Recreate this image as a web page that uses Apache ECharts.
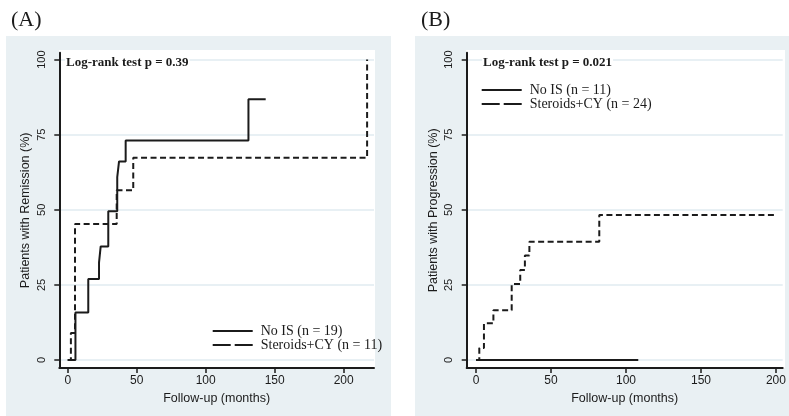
<!DOCTYPE html>
<html>
<head>
<meta charset="utf-8">
<script src="https://cdn.jsdelivr.net/npm/echarts@6/dist/echarts.min.js"></script>
<style>html,body{margin:0;padding:0;background:#fff}#c{width:789px;height:416px}</style>
</head>
<body>
<div id="c"></div>
<script>
// ---- Data ----
const xTicks = [0, 50, 100, 150, 200];
const yTicks = [0, 25, 50, 75, 100];

// Panel A: remission
const aNoIS_t = [0, 5.6, 14.9, 22.7, 23.9, 29.4, 35.9, 37.2, 42.0, 131.0, 143.5];
const aNoIS_v = [0, 15.8, 27.0, 32.5, 37.8, 49.5, 60.9, 66.1, 73.1, 86.8, 86.8];
const aSCY_t = [0, 2.3, 5.3, 35.5, 47.5, 217.0];
const aSCY_v = [0, 9.0, 45.3, 56.5, 67.3, 100];

// Panel B: progression
const bNoIS_t = [0, 108.2];
const bNoIS_v = [0, 0];
const bSCY_t = [0, 2.2, 5.3, 11.6, 23.8, 29.5, 32.6, 35.6, 82.2, 199.3];
const bSCY_v = [0, 4.0, 12.2, 16.6, 25.3, 30.0, 34.8, 39.4, 48.3, 48.3];

const nameA1 = 'No IS (n = 19)', nameA2 = 'Steroids+CY (n = 11)';
const nameB1 = 'No IS (n = 11)', nameB2 = 'Steroids+CY (n = 24)';
const panelLabels = ['(A)', '(B)'];
const pTexts = ['Log-rank test p = 0.39', 'Log-rank test p = 0.021'];
const yNames = ['Patients with Remission (%)', 'Patients with Progression (%)'];
const xName = 'Follow-up (months)';

// ---- Build ----
const zip = (t, v) => t.map((x, i) => [x, v[i]]);
const INK = '#1b1b1b';
const BG = '#e9f0f3';
const GRIDC = '#e0ebf1';
const SANS = '"Liberation Sans", Arial, sans-serif';
const SERIF = '"Liberation Serif", "Times New Roman", serif';
const DASH = [6, 3.5];
const ICON_SOLID = 'path://M0,0H40V2H0Z';
const ICON_DASH = 'path://M0,0H18V2H0Z M22,0H40V2H22Z';

function xAxisDef(idx, min, max) {
  return {
    gridIndex: idx, type: 'value', min: min, max: max,
    name: xName, nameLocation: 'middle', nameGap: 22,
    nameTextStyle: {fontFamily: SANS, fontSize: 12.5, color: INK},
    axisLine: {show: true, onZero: false, lineStyle: {color: INK, width: 2}},
    axisTick: {show: true, length: 5, customValues: xTicks, lineStyle: {color: INK, width: 1.5}},
    axisLabel: {customValues: xTicks, fontFamily: SANS, fontSize: 12, color: INK, margin: 7},
    splitLine: {show: false}
  };
}
function yAxisDef(idx, name) {
  return {
    gridIndex: idx, type: 'value', min: -2.66, max: 102.3,
    name: name, nameLocation: 'middle', nameGap: 27, nameRotate: 90,
    nameTextStyle: {fontFamily: SANS, fontSize: 12.5, color: INK},
    axisLine: {show: true, onZero: false, lineStyle: {color: INK, width: 2}},
    axisTick: {show: true, length: 5, customValues: yTicks, lineStyle: {color: INK, width: 1.5}},
    axisLabel: {customValues: yTicks, rotate: 90, fontFamily: SANS, fontSize: 11, color: INK, margin: 12},
    splitLine: {show: true, lineStyle: {color: GRIDC, width: 1.5}}
  };
}
function lineSeries(name, data, xi, dashed) {
  return {
    name: name, type: 'line', step: 'end', xAxisIndex: xi, yAxisIndex: xi,
    data: data, symbol: 'none', showSymbol: false, animation: false,
    lineStyle: {color: INK, width: 2, type: dashed ? DASH : 'solid'},
    itemStyle: {color: INK}
  };
}
function legendDef(left, top, n1, n2) {
  return {
    show: true, left: left, top: top, orient: 'vertical', itemWidth: 40, itemHeight: 2, itemGap: 0,
    selectedMode: false, padding: 0, symbolKeepAspect: false,
    itemStyle: {color: INK, borderWidth: 0},
    textStyle: {fontFamily: SERIF, fontSize: 14, color: INK, padding: [0, 0, 0, 3]},
    data: [
      {name: n1, icon: ICON_SOLID},
      {name: n2, icon: ICON_DASH}
    ]
  };
}

const chart = echarts.init(document.getElementById('c'), null, {renderer: 'canvas'});
const option = {
  backgroundColor: '#ffffff',
  animation: false,
  graphic: [
    {type: 'rect', z: -10, shape: {x: 6, y: 36, width: 385, height: 380}, style: {fill: BG}},
    {type: 'rect', z: -10, shape: {x: 415, y: 36, width: 374, height: 380}, style: {fill: BG}},
    {type: 'rect', z: -9, shape: {x: 59, y: 50, width: 316, height: 318}, style: {fill: '#ffffff'}},
    {type: 'rect', z: -9, shape: {x: 466, y: 50, width: 319, height: 318}, style: {fill: '#ffffff'}},
    {type: 'text', left: 11, top: 9, style: {text: panelLabels[0], font: '22px ' + SERIF, fill: INK}},
    {type: 'text', left: 421, top: 9, style: {text: panelLabels[1], font: '22px ' + SERIF, fill: INK}},
    {type: 'text', z: 100, left: 65, top: 55, style: {text: pTexts[0], font: 'bold 13px ' + SERIF, fill: INK, backgroundColor: '#ffffff', padding: [1, 1, 1, 1]}},
    {type: 'text', z: 100, left: 482, top: 55, style: {text: pTexts[1], font: 'bold 13px ' + SERIF, fill: INK, backgroundColor: '#ffffff', padding: [1, 1, 1, 1]}}
  ],
  grid: [
    {left: 59.3, top: 52.7, width: 314.7, height: 315.3, outerBoundsMode: 'none', containLabel: false},
    {left: 466.7, top: 52.7, width: 316, height: 315.3, outerBoundsMode: 'none', containLabel: false}
  ],
  xAxis: [xAxisDef(0, -6.1, 222), xAxisDef(1, -6.2, 204.5)],
  yAxis: [yAxisDef(0, yNames[0]), yAxisDef(1, yNames[1])],
  legend: [legendDef(212.7, 324, nameA1, nameA2), legendDef(481.7, 83, nameB1, nameB2)],
  series: [
    lineSeries(nameA1, zip(aNoIS_t, aNoIS_v), 0, false),
    lineSeries(nameA2, zip(aSCY_t, aSCY_v), 0, true),
    lineSeries(nameB1, zip(bNoIS_t, bNoIS_v), 1, false),
    lineSeries(nameB2, zip(bSCY_t, bSCY_v), 1, true)
  ]
};
chart.setOption(option);
</script>
</body>
</html>
